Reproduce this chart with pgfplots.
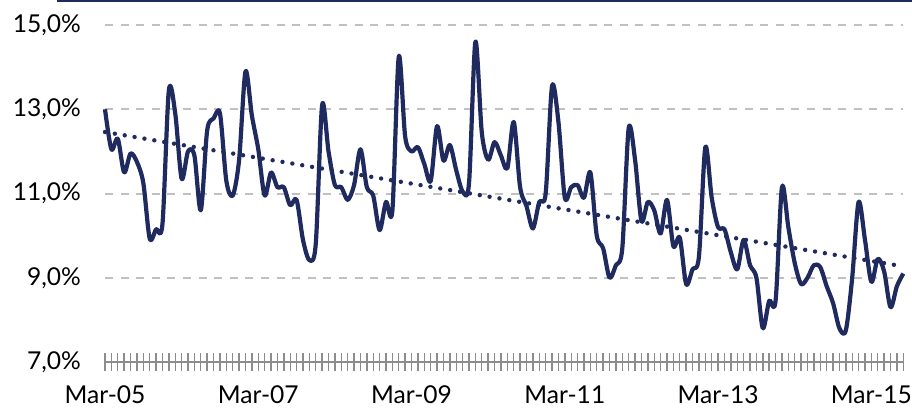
\documentclass[border=0pt]{standalone}
\usepackage{pgfplots}
\pgfplotsset{compat=1.18}
\usepackage{pgfplotstable}
\usepackage{fontspec}
\setmainfont{Lato}
\definecolor{navy}{HTML}{1F2B5E}
\definecolor{axgray}{HTML}{8C8C8C}
\definecolor{gridgray}{HTML}{C0C0C0}
\pgfplotstableread{
i v
0 13.0
1 12.05
2 12.3
3 11.5
4 11.95
5 11.75
6 11.25
7 9.93
8 10.15
9 10.28
10 13.45
11 12.9
12 11.35
13 12.0
14 11.9
15 10.6
16 12.5
17 12.78
18 12.9
19 11.3
20 10.95
21 11.8
22 13.9
23 12.85
24 12.05
25 10.95
26 11.5
27 11.15
28 11.15
29 10.72
30 10.85
31 9.9
32 9.42
33 9.8
34 13.1
35 12.0
36 11.2
37 11.15
38 10.85
39 11.2
40 12.05
41 11.15
42 10.95
43 10.13
44 10.8
45 10.6
46 14.25
47 12.35
48 12.0
49 12.1
50 11.7
51 11.3
52 12.6
53 11.78
54 12.15
55 11.55
56 11.05
57 11.25
58 14.6
59 12.45
60 11.8
61 12.22
62 11.9
63 11.6
64 12.7
65 11.15
66 10.7
67 10.17
68 10.8
69 11.0
70 13.55
71 12.7
72 10.9
73 11.15
74 11.2
75 10.9
76 11.5
77 10.0
78 9.7
79 9.0
80 9.3
81 9.7
82 12.55
83 11.8
84 10.35
85 10.8
86 10.6
87 10.05
88 10.85
89 9.75
90 9.95
91 8.85
92 9.2
93 9.5
94 12.1
95 10.9
96 10.2
97 10.15
98 9.6
99 9.2
100 9.9
101 9.3
102 9.0
103 7.8
104 8.45
105 8.45
106 11.15
107 10.2
108 9.35
109 8.85
110 9.0
111 9.3
112 9.25
113 8.8
114 8.4
115 7.8
116 7.75
117 9.0
118 10.8
119 9.9
120 8.9
121 9.45
122 9.15
123 8.3
124 8.8
125 9.1
}\datatable
\begin{document}
\begin{tikzpicture}
\path[use as bounding box] (-52.5pt,-23.5pt) rectangle (403.5pt,181pt);
\draw[navy, line width=1.2pt] (-24pt,180.6pt) -- (404pt,180.6pt);
\begin{axis}[
  at={(0pt,0pt)}, anchor=south west,
  width=399.15pt, height=168.5pt, scale only axis,
  xmin=0, xmax=125, ymin=7, ymax=15,
  axis x line*=bottom, axis y line*=left,
  y axis line style={draw=none},
  x axis line style={color=axgray, line width=1pt, -},
  ytick={7,9,11,13,15},
  ytick style={draw=none},
  ymajorgrids,
  grid style={gridgray, line width=1pt, dash pattern=on 4pt off 3.8pt},
  xtick={0,...,125},
  xticklabels={},
  xtick style={color=axgray, line width=0.7pt},
  tick align=center,
  major tick length=9pt,
  extra x ticks={0,24,48,72,96,120},
  extra x tick labels={Mar-05,Mar-07,Mar-09,Mar-11,Mar-13,Mar-15},
  extra x tick style={grid=none},
  /pgf/number format/assume math mode=true,
  yticklabel={\pgfmathprintnumber[fixed,fixed zerofill,precision=1,use comma]{\tick}\%},
  tick label style={font=\fontsize{12.3}{14}\selectfont, black},
  yticklabel style={xshift=-4pt},
  xticklabel style={yshift=-4pt},
  clip=false,
]
\addplot[navy, line width=2.1pt, smooth, line join=round] table[x=i, y=v] {\datatable};
\addplot[navy, line width=2.2pt, line cap=round, dash pattern=on 0pt off 5pt] coordinates {(0,12.46) (125,9.27)};
\end{axis}
\end{tikzpicture}
\end{document}
